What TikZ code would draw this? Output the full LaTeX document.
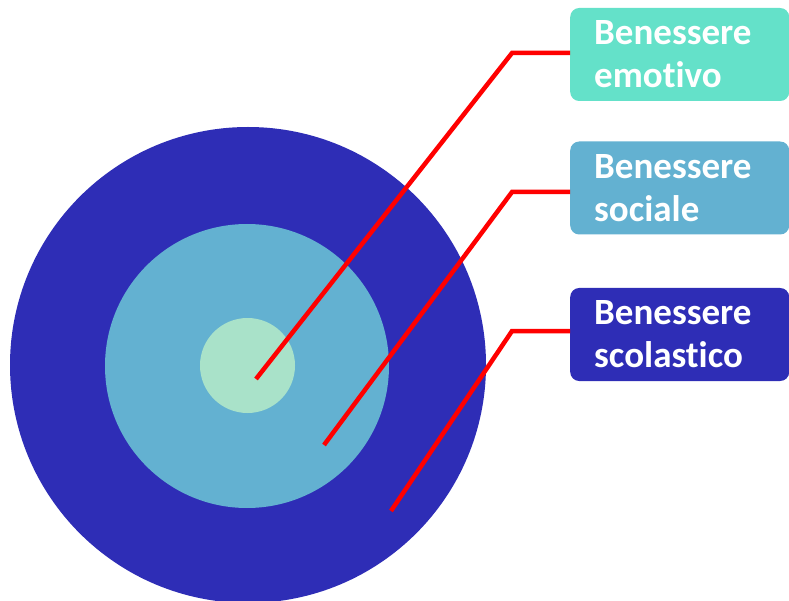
\documentclass[tikz,border=0pt]{standalone}
\usepackage{fontspec}
\setmainfont[Ligatures=NoCommon]{Carlito}
\usetikzlibrary{positioning, calc}
\definecolor{scuro}{HTML}{2E2DB6}
\definecolor{medio}{HTML}{63B1D1}
\definecolor{chiaro}{HTML}{A9E2C9}
\definecolor{turchese}{HTML}{64E1C9}
\definecolor{rosso}{HTML}{FF0000}

\begin{document}
\begin{tikzpicture}[x=1pt, y=-1pt,
    disc/.style={circle, inner sep=0pt, draw=none},
    tag/.style={rounded corners=9pt, minimum width=219pt, minimum height=93pt,
      text width=171pt, inner xsep=24pt, align=left, anchor=west,
      text=white, font=\fontsize{37}{43}\selectfont\bfseries},
    link/.style={draw=rosso, line width=4.5pt}]
      \useasboundingbox (0,0) rectangle (789,601);
      \clip (0,0) rectangle (789,601);
      \node[disc, fill=scuro, minimum size=476pt] (outer) at (248,365) {};
      \node[disc, fill=medio, minimum size=284pt] (middle) at (247,366) {};
      \node[disc, fill=chiaro, minimum size=95pt] (inner) at (247.5,365.5) {};
      \node[tag, fill=turchese] (emotivo) at (570,54.5) {Benessere\\emotivo};
      \node[tag, fill=medio] (sociale) at (570,188) {Benessere\\sociale};
      \node[tag, fill=scuro] (scolastico) at (570,334.5) {Benessere\\scolastico};
      \coordinate (pe) at (256,379);
      \coordinate (ps) at (324,445);
      \coordinate (pc) at (391,511);
      \draw[link] (pe) -- (512,53) -- (emotivo.west |- 0,53);
      \draw[link] (ps) -- (512,192) -- (sociale.west |- 0,192);
      \draw[link] (pc) -- (512,331) -- (scolastico.west |- 0,331);
    \end{tikzpicture}
\end{document}
